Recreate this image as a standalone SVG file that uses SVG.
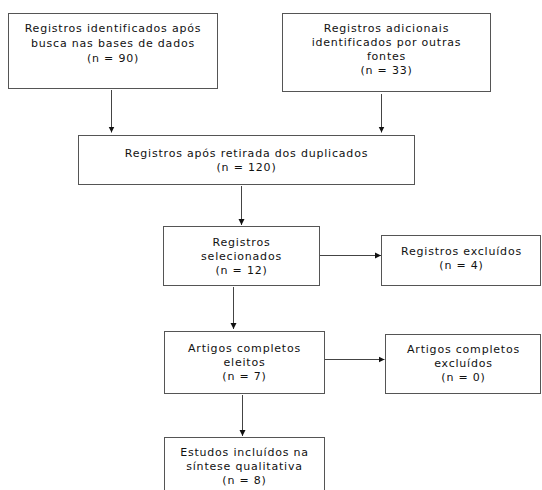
<svg xmlns="http://www.w3.org/2000/svg" width="542" height="490" viewBox="0 0 542 490">
<style>
.box{fill:#fff;stroke:#555;stroke-width:1}
.t{font-family:"DejaVu Sans",Verdana,sans-serif;font-size:11px;letter-spacing:0.8px;fill:#111;text-anchor:middle}
.c{stroke:#444;stroke-width:1;fill:none}
</style>
<defs>
<marker id="ah" markerUnits="userSpaceOnUse" markerWidth="8" markerHeight="8" refX="6" refY="3.5" orient="auto">
<path d="M0,0.5 L6,3.5 L0,6.5 Z" fill="#111"/>
</marker>
</defs>
<rect width="542" height="490" fill="#fff"/>
<g id="connectors">
<line class="c" x1="111.5" y1="90" x2="111.5" y2="132.5" marker-end="url(#ah)"/>
<line class="c" x1="381.5" y1="94" x2="381.5" y2="132.5" marker-end="url(#ah)"/>
<line class="c" x1="241.5" y1="186" x2="241.5" y2="225" marker-end="url(#ah)"/>
<line class="c" x1="320" y1="255.5" x2="381" y2="255.5" marker-end="url(#ah)"/>
<line class="c" x1="233.5" y1="287" x2="233.5" y2="329" marker-end="url(#ah)"/>
<line class="c" x1="325" y1="359.5" x2="384.5" y2="359.5" marker-end="url(#ah)"/>
<line class="c" x1="242.5" y1="395" x2="242.5" y2="436" marker-end="url(#ah)"/>
</g>
<g id="n1">
<rect class="box" x="8.5" y="13.5" width="209" height="75"/>
<text class="t" x="113" y="32">Registros identificados após</text>
<text class="t" x="113" y="47">busca nas bases de dados</text>
<text class="t" x="113" y="62">(n = 90)</text>
</g>
<g id="n2">
<rect class="box" x="282.5" y="13.5" width="208" height="78"/>
<text class="t" x="386.5" y="32">Registros adicionais</text>
<text class="t" x="386.5" y="46">identificados por outras</text>
<text class="t" x="386.5" y="60">fontes</text>
<text class="t" x="386.5" y="74">(n = 33)</text>
</g>
<g id="n3">
<rect class="box" x="78.5" y="135.5" width="336" height="49"/>
<text class="t" x="246.5" y="157">Registros após retirada dos duplicados</text>
<text class="t" x="246.5" y="171">(n = 120)</text>
</g>
<g id="n4">
<rect class="box" x="163.5" y="226.5" width="156" height="59"/>
<text class="t" x="241.5" y="246">Registros</text>
<text class="t" x="241.5" y="260">selecionados</text>
<text class="t" x="241.5" y="274">(n = 12)</text>
</g>
<g id="n5">
<rect class="box" x="381.5" y="235.5" width="159" height="50"/>
<text class="t" x="461.5" y="255">Registros excluídos</text>
<text class="t" x="461.5" y="269">(n = 4)</text>
</g>
<g id="n6">
<rect class="box" x="164.5" y="331.5" width="160" height="62"/>
<text class="t" x="244.5" y="352">Artigos completos</text>
<text class="t" x="244.5" y="366">eleitos</text>
<text class="t" x="244.5" y="380">(n = 7)</text>
</g>
<g id="n7">
<rect class="box" x="385.5" y="334.5" width="155" height="59"/>
<text class="t" x="463.5" y="353">Artigos completos</text>
<text class="t" x="463.5" y="367">excluídos</text>
<text class="t" x="463.5" y="381">(n = 0)</text>
</g>
<g id="n8">
<rect class="box" x="164.5" y="437.5" width="160" height="62"/>
<text class="t" x="244.5" y="456">Estudos incluídos na</text>
<text class="t" x="244.5" y="470">síntese qualitativa</text>
<text class="t" x="244.5" y="484">(n = 8)</text>
</g>
</svg>
